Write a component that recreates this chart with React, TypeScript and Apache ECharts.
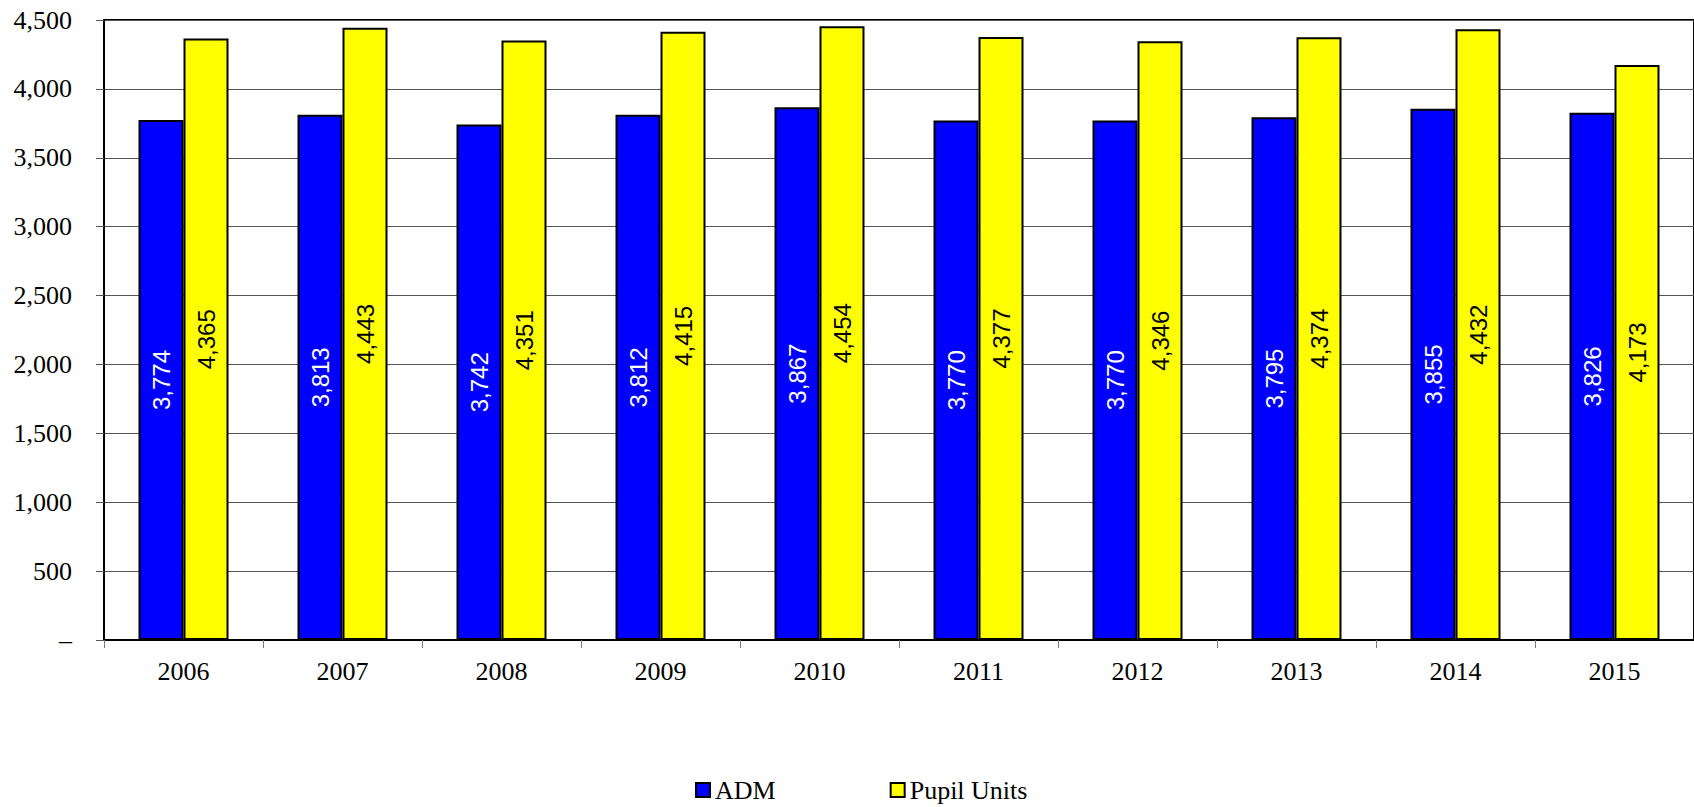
import React, { useEffect, useRef } from "react";
import * as echarts from "echarts";

// School years shown along the x axis
const years = ["2006", "2007", "2008", "2009", "2010", "2011", "2012", "2013", "2014", "2015"];

// Average daily membership per year
const admValues = [3774, 3813, 3742, 3812, 3867, 3770, 3770, 3795, 3855, 3826];

// Weighted pupil units per year
const pupilUnitValues = [4365, 4443, 4351, 4415, 4454, 4377, 4346, 4374, 4432, 4173];

const seriesNames = ["ADM", "Pupil Units"];
const seriesColors = ["#0000FF", "#FFFF00"];
const labelColors = ["#FFFFFF", "#000000"];

const yMin = 0;
const yMax = 4500;
const yStep = 500;

const serif = "'Liberation Serif', 'Times New Roman', serif";
const sans = "'Liberation Sans', Arial, sans-serif";

const fmt = (v: number) => (v === 0 ? "–" : v.toLocaleString("en-US"));

export default function App() {
  const ref = useRef<HTMLDivElement>(null);

  useEffect(() => {
    if (!ref.current) return;
    const chart = echarts.init(ref.current, null, { renderer: "svg" });

    const makeSeries = (name: string, data: number[], i: number) => ({
      name,
      type: "bar" as const,
      data,
      barWidth: 45,
      barGap: "0%",
      itemStyle: {
        color: seriesColors[i],
        borderColor: "#000000",
        borderWidth: 2,
      },
      label: {
        show: true,
        position: "inside" as const,
        rotate: 90,
        color: labelColors[i],
        fontFamily: sans,
        fontSize: 24,
        formatter: (p: any) => fmt(p.value),
      },
    });

    chart.setOption({
      animation: false,
      backgroundColor: "#ffffff",
      textStyle: { fontFamily: serif },
      grid: {
        left: 104,
        right: -5,
        top: 20,
        bottom: 167,
        show: true,
        borderColor: "#000000",
        borderWidth: 2,
        backgroundColor: "transparent",
      },
      legend: {
        data: seriesNames,
        left: 690,
        top: 772,
        itemWidth: 14,
        itemHeight: 14,
        itemGap: 114,
        icon: "rect",
        textStyle: { fontFamily: serif, fontSize: 26, color: "#000000" },
      },
      xAxis: {
        type: "category",
        data: years,
        axisLine: { show: true, lineStyle: { color: "#000000", width: 2 } },
        axisTick: { show: true, length: 8, lineStyle: { color: "#777777", width: 1 } },
        axisLabel: { fontFamily: serif, fontSize: 26, color: "#000000", margin: 18 },
      },
      yAxis: {
        type: "value",
        min: yMin,
        max: yMax,
        interval: yStep,
        axisLine: { show: true, lineStyle: { color: "#000000", width: 2 } },
        axisTick: { show: true, length: 8, lineStyle: { color: "#555555", width: 1 } },
        splitLine: { show: true, lineStyle: { color: "#555555", width: 1 } },
        axisLabel: {
          fontFamily: serif,
          fontSize: 26,
          color: "#000000",
          margin: 32,
          formatter: (v: number) => fmt(v),
        },
      },
      series: [
        makeSeries(seriesNames[0], admValues, 0),
        makeSeries(seriesNames[1], pupilUnitValues, 1),
      ],
    });

    return () => chart.dispose();
  }, []);

  return (
    <div
      ref={ref}
      style={{ position: "absolute", left: 0, top: 0, width: 1694, height: 807, overflow: "hidden" }}
    />
  );
}
